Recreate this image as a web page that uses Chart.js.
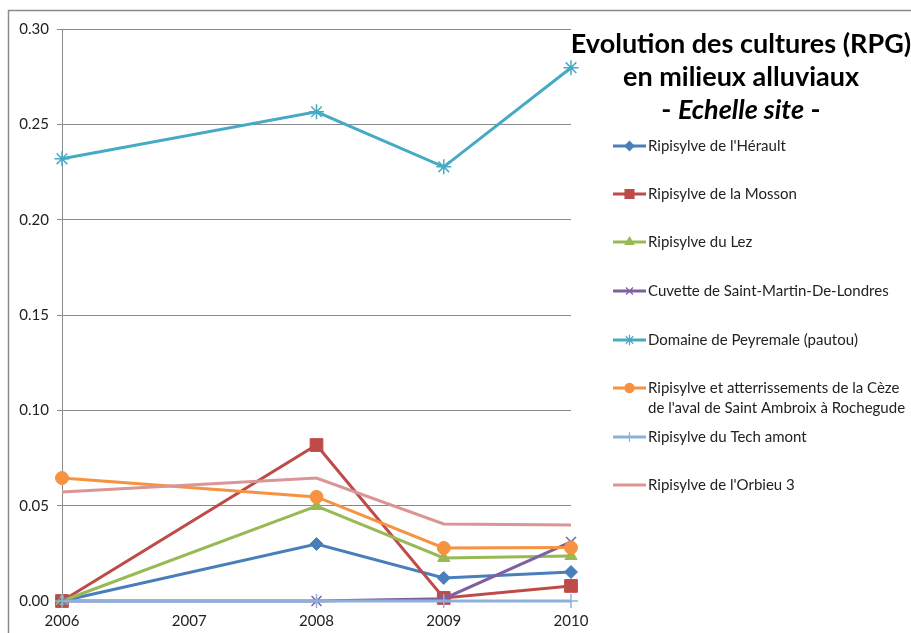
<!DOCTYPE html>
<html>
<head>
<meta charset="utf-8">
<script src="https://cdn.jsdelivr.net/npm/chart.js@4"></script>
<style>
  html, body { margin: 0; padding: 0; background: #fff; }
  #wrap { width: 911px; height: 633px; position: relative; }
</style>
</head>
<body>
<div id="wrap"><canvas id="chart"></canvas></div>
<script>
// donnees
const years = [2006, 2008, 2009, 2010];
const herault = [0, 0.0299, 0.0121, 0.0152];
const mosson = [0, 0.0818, 0.0016, 0.0079];
const lez = [0, 0.0498, 0.0226, 0.0236];
const cuvette = [0, 0, 0.0012, 0.0310];
const peyremale = [0.2319, 0.2566, 0.2277, 0.2797];
const ceze = [0.0645, 0.0546, 0.0278, 0.0280];
const tech = [0, 0, 0, 0];
const orbieu = [0.0572, 0.0645, 0.0404, 0.0399];
const yTicks = [0, 0.05, 0.10, 0.15, 0.20, 0.25, 0.30];

const FONT = "Lato, 'Open Sans', sans-serif";

function pts(vals) {
  return years.map((y, i) => ({ x: y, y: vals[i] }));
}

let n = 0;
function serie(label, vals, color, style, radius) {
  n++;
  return {
    label: label,
    data: pts(vals),
    order: 20 - n, // les dernieres series par-dessus, comme dans Excel
    borderColor: color,
    backgroundColor: color,
    borderWidth: 3,
    pointStyle: style,
    pointRadius: radius,
    pointBorderWidth: style === "cross" || style === "crossRot" || style === "star" ? 1.5 : 1,
    pointBorderColor: color,
    pointBackgroundColor: color,
    clip: false,
    tension: 0
  };
}

const datasets = [
  serie("Ripisylve de l'Hérault", herault, "#4A7EBB", "rectRot", 6.5),
  serie("Ripisylve de la Mosson", mosson, "#BE4B48", "rect", 9),
  serie("Ripisylve du Lez", lez, "#98B954", "triangle", 7),
  serie("Cuvette de Saint-Martin-De-Londres", cuvette, "#7D60A0", "crossRot", 7),
  serie("Domaine de Peyremale (pautou)", peyremale, "#46AAC5", "star", 7.5),
  serie(["Ripisylve et atterrissements de la Cèze", "de l'aval de Saint Ambroix à Rochegude"], ceze, "#F69240", "circle", 6.5),
  serie("Ripisylve du Tech amont", tech, "#8EB1DC", "cross", 7),
  serie("Ripisylve de l'Orbieu 3", orbieu, "#D99694", "circle", 0)
];

// cadre, titre et legende dessines a la main
const decor = {
  id: "decor",
  afterDraw(chart) {
    const ctx = chart.ctx;
    ctx.save();
    // cadre
    ctx.strokeStyle = "#8a8a8a";
    ctx.lineWidth = 1.5;
    ctx.beginPath();
    ctx.moveTo(8.5, 640);
    ctx.lineTo(8.5, 10.5);
    ctx.lineTo(920, 10.5);
    ctx.stroke();

    // titre
    const TF = "bold 27px " + FONT, TFI = "italic bold 27px " + FONT;
    ctx.fillStyle = "#000";
    ctx.textAlign = "center";
    ctx.textBaseline = "middle";
    ctx.font = TF;
    ctx.fillText("Evolution des cultures (RPG)", 741, 44);
    ctx.fillText("en milieux alluviaux", 741, 77);
    const a = "- ", b = "Echelle site", c = " -";
    const wa = ctx.measureText(a).width, wc = ctx.measureText(c).width;
    ctx.font = TFI;
    const wb = ctx.measureText(b).width;
    let x = 741 - (wa + wb + wc) / 2;
    ctx.textAlign = "left";
    ctx.font = TF;
    ctx.fillText(a, x, 110);
    ctx.font = TFI;
    ctx.fillText(b, x + wa, 110);
    ctx.font = TF;
    ctx.fillText(c, x + wa + wb, 110);

    // legende
    const rows = [146, 194, 242, 291, 340, 388, 437, 485];
    chart.data.datasets.forEach((ds, i) => {
      const y = rows[i];
      ctx.strokeStyle = ds.borderColor;
      ctx.lineWidth = 3;
      ctx.beginPath();
      ctx.moveTo(613, y);
      ctx.lineTo(646, y);
      ctx.stroke();
      if (ds.pointRadius > 0) {
        ctx.fillStyle = ds.pointBackgroundColor;
        ctx.strokeStyle = ds.pointBorderColor;
        ctx.lineWidth = 1.2;
        Chart.helpers.drawPoint(ctx, {
          pointStyle: ds.pointStyle,
          radius: ds.pointRadius * 0.7,
          rotation: 0,
          borderWidth: 1.2
        }, 629.5, y);
      }
      ctx.fillStyle = "#222";
      ctx.font = "15px " + FONT;
      ctx.textAlign = "left";
      ctx.textBaseline = "middle";
      const lines = Array.isArray(ds.label) ? ds.label : [ds.label];
      lines.forEach((t, k) => ctx.fillText(t, 648, y + k * 20));
    });
    ctx.restore();
  }
};

new Chart(document.getElementById("chart"), {
  type: "line",
  data: { datasets: datasets },
  options: {
    responsive: true,
    maintainAspectRatio: false,
    animation: false,
    layout: { padding: { left: 0, right: 340, top: 29, bottom: 0 } },
    plugins: {
      legend: { display: false },
      tooltip: { enabled: false }
    },
    scales: {
      x: {
        type: "linear",
        min: 2006,
        max: 2010,
        afterFit: (s) => { s.height = 32; },
        ticks: {
          stepSize: 1,
          color: "#222",
          font: { family: FONT, size: 15 },
          padding: 3,
          callback: (v) => String(v)
        },
        grid: { display: false },
        border: { display: true, color: "#8a8a8a", width: 1 }
      },
      y: {
        min: 0,
        max: 0.3,
        afterFit: (s) => { s.width = 62; },
        afterBuildTicks: (s) => { s.ticks = yTicks.map(v => ({ value: v })); },
        ticks: {
          color: "#222",
          font: { family: FONT, size: 15 },
          padding: 8,
          callback: (v) => v.toFixed(2)
        },
        grid: { color: "#8a8a8a", lineWidth: 1, tickLength: 5 },
        border: { display: true, color: "#8a8a8a", width: 1 }
      }
    }
  },
  plugins: [decor]
});
</script>
</body>
</html>
